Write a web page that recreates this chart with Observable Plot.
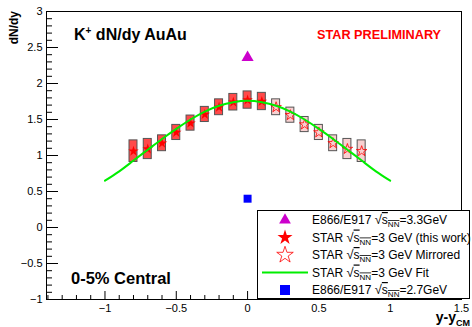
<!DOCTYPE html>
<html><head><meta charset="utf-8">
<script src="https://cdn.jsdelivr.net/npm/d3@7"></script>
<script src="https://cdn.jsdelivr.net/npm/@observablehq/plot@0.6"></script>
<style>
body{margin:0;background:#fff;}
#wrap{position:relative;width:472px;height:327px;font-family:"Liberation Sans",Arial,sans-serif;}
#wrap svg{display:block;}
</style></head><body><div id="wrap"></div>
<script>
// STAR 3 GeV (this work)
const yStar = [-0.8,-0.7,-0.6,-0.5,-0.4,-0.3,-0.2,-0.1,0.0,0.1];
const dndyStar = [1.06,1.09,1.17,1.32,1.45,1.57,1.67,1.74,1.77,1.75];
const sysStar = [0.15,0.14,0.11,0.105,0.105,0.105,0.11,0.115,0.12,0.12];
// STAR 3 GeV mirrored
const yMir = [0.2,0.3,0.4,0.5,0.6,0.7,0.8];
const dndyMir = [1.67,1.56,1.43,1.32,1.17,1.09,1.06];
const sysMir = [0.11,0.105,0.105,0.105,0.11,0.14,0.15];
// STAR 3 GeV fit
const fitX = [-1.0,-0.9,-0.8,-0.7,-0.6,-0.5,-0.4,-0.3,-0.2,-0.1,0.0,0.1,0.2,0.3,0.4,0.5,0.6,0.7,0.8,0.9,1.0];
const fitY = [0.65,0.78,0.93,1.08,1.23,1.37,1.50,1.61,1.69,1.74,1.76,1.74,1.69,1.61,1.50,1.37,1.23,1.08,0.93,0.78,0.65];
// E866/E917
const yE33 = [0.0]; const dndyE33 = [2.36];
const yE27 = [0.0]; const dndyE27 = [0.40];
// axes
const xMajor = [-1,-0.5,0,0.5,1,1.5];
const xMinor = [-1.4,-1.3,-1.2,-1.1,-0.9,-0.8,-0.7,-0.6,-0.4,-0.3,-0.2,-0.1,0.1,0.2,0.3,0.4,0.6,0.7,0.8,0.9,1.1,1.2,1.3,1.4];
const yMajor = [-1,-0.5,0,0.5,1,1.5,2,2.5,3];
const yMinor = [-0.9,-0.8,-0.7,-0.6,-0.4,-0.3,-0.2,-0.1,0.1,0.2,0.3,0.4,0.6,0.7,0.8,0.9,1.1,1.2,1.3,1.4,1.6,1.7,1.8,1.9,2.1,2.2,2.3,2.4,2.6,2.7,2.8,2.9];

const W=472,H=327,mL=46,mR=11,mT=11,mB=28;
const plotW=W-mL-mR, plotH=H-mT-mB;
const boxHalf=0.028;
const starRows = yStar.map((y,i)=>({y,v:dndyStar[i],s:sysStar[i]}));
const mirRows = yMir.map((y,i)=>({y,v:dndyMir[i],s:sysMir[i]}));
const fitRows = fitX.map((x,i)=>({x,y:fitY[i]}));
const e33 = yE33.map((y,i)=>({y,v:dndyE33[i]}));
const e27 = yE27.map((y,i)=>({y,v:dndyE27[i]}));
const fmt = d => d<0 ? "\u2212"+Math.abs(d) : String(d);

const chart = Plot.plot({
  width:W,height:H,marginLeft:mL,marginRight:mR,marginTop:mT,marginBottom:mB,
  style:{fontFamily:"Liberation Sans, Arial, sans-serif",fontSize:"11px",background:"white",color:"black"},
  x:{domain:[-1.41,1.5]}, y:{domain:[-1,3]},
  marks:[
    Plot.rect(starRows,{x1:d=>d.y-boxHalf,x2:d=>d.y+boxHalf,y1:d=>d.v-d.s,y2:d=>d.v+d.s,fill:"#ff4a4a",stroke:"#555",strokeWidth:1}),
    Plot.rect(mirRows,{x1:d=>d.y-boxHalf,x2:d=>d.y+boxHalf,y1:d=>d.v-d.s,y2:d=>d.v+d.s,fill:"#f8d0d0",stroke:"#555",strokeWidth:1}),
    Plot.dot(starRows,{x:"y",y:"v",symbol:"star",r:3.3,fill:"#ff0000",stroke:"none"}),
    Plot.dot(mirRows,{x:"y",y:"v",symbol:"star",r:3.3,fill:"none",stroke:"#ff0000",strokeWidth:0.8}),
    Plot.line(fitRows,{x:"x",y:"y",stroke:"#00ee00",strokeWidth:2,curve:"natural"}),
    Plot.dot(e33,{x:"y",y:"v",symbol:"triangle",r:4.5,fill:"#cc00cc",stroke:"none"}),
    Plot.dot(e27,{x:"y",y:"v",symbol:"square",r:4.5,fill:"#0000ff",stroke:"none"}),
    Plot.tickY(yMinor,{y:d=>d,insetRight:plotW-6,stroke:"black"}),
    Plot.tickY(yMajor,{y:d=>d,insetRight:plotW-12,stroke:"black"}),
    Plot.tickX(xMinor,{x:d=>d,insetTop:plotH-4,stroke:"black"}),
    Plot.tickX(xMajor,{x:d=>d,insetTop:plotH-8,stroke:"black"}),
    Plot.axisY(yMajor,{tickSize:0,tickPadding:4,label:null,tickFormat:fmt,fontSize:11}),
    Plot.axisX(xMajor,{tickSize:0,tickPadding:5,label:null,tickFormat:fmt,fontSize:11}),
    Plot.frame({stroke:"black"})
  ]
});
document.getElementById("wrap").appendChild(chart);

const svg = d3.select(chart);
const g = svg.append("g").attr("font-family","Liberation Sans, Arial, sans-serif").attr("text-anchor","start");
// titles
const t1 = g.append("text").attr("x",74).attr("y",40).attr("font-size",16).attr("font-weight","bold").attr("text-anchor","start");
t1.append("tspan").text("K");
t1.append("tspan").attr("font-size",10).attr("dy",-6).text("+");
t1.append("tspan").attr("dy",6).text(" dN/dy AuAu");
g.append("text").attr("x",317).attr("y",39).attr("font-size",12.7).attr("font-weight","bold").attr("fill","#ff0000").attr("text-anchor","start").text("STAR PRELIMINARY");
g.append("text").attr("x",71).attr("y",284).attr("font-size",16.5).attr("font-weight","bold").attr("text-anchor","start").text("0-5% Central");
// axis titles
g.append("text").attr("transform","translate(18,11) rotate(-90)").attr("text-anchor","end").attr("font-size",12).attr("font-weight","bold").text("dN/dy");
const xt = g.append("text").attr("x",470).attr("y",322).attr("text-anchor","end").attr("font-size",14).attr("font-weight","bold");
xt.append("tspan").text("y-y");
xt.append("tspan").attr("font-size",9).attr("dy",4).text("CM");

// legend
const L = g.append("g");
L.append("rect").attr("x",257.5).attr("y",210.5).attr("width",212).attr("height",88).attr("fill","white").attr("stroke","black");
const rows = [
  {sym:"tri",pre:"E866/E917 ",post:"=3.3GeV"},
  {sym:"star",pre:"STAR ",post:"=3 GeV (this work)"},
  {sym:"ostar",pre:"STAR ",post:"=3 GeV Mirrored"},
  {sym:"line",pre:"STAR ",post:"=3 GeV Fit"},
  {sym:"sq",pre:"E866/E917 ",post:"=2.7GeV"}
];
const rowY=[220,237.5,255,272.5,290];
rows.forEach((r,i)=>{
  const cy=rowY[i], cx=285;
  if(r.sym==="tri") L.append("path").attr("transform",`translate(${cx},${cy})`).attr("d",d3.symbol(d3.symbolTriangle,60)()).attr("fill","#cc00cc");
  if(r.sym==="star") L.append("path").attr("transform",`translate(${cx},${cy})`).attr("d",d3.symbol(d3.symbolStar,70)()).attr("fill","#ff0000");
  if(r.sym==="ostar") L.append("path").attr("transform",`translate(${cx},${cy})`).attr("d",d3.symbol(d3.symbolStar,85)()).attr("fill","none").attr("stroke","#ff0000").attr("stroke-width",0.8);
  if(r.sym==="line") L.append("line").attr("x1",262).attr("x2",308).attr("y1",cy).attr("y2",cy).attr("stroke","#00ee00").attr("stroke-width",2);
  if(r.sym==="sq") L.append("rect").attr("x",cx-5).attr("y",cy-5).attr("width",10).attr("height",10).attr("fill","#0000ff");
  const t = L.append("text").attr("x",312).attr("y",cy+4).attr("font-size",12).attr("text-anchor","start");
  t.append("tspan").text(r.pre);
  t.append("tspan").attr("font-size",13).text("\u221A");
  t.append("tspan").attr("text-decoration","overline").text("s");
  t.append("tspan").attr("font-size",8).attr("dy",3).attr("text-decoration","overline").text("NN");
  t.append("tspan").attr("dy",-3).text(r.post);
});
</script></body></html>
